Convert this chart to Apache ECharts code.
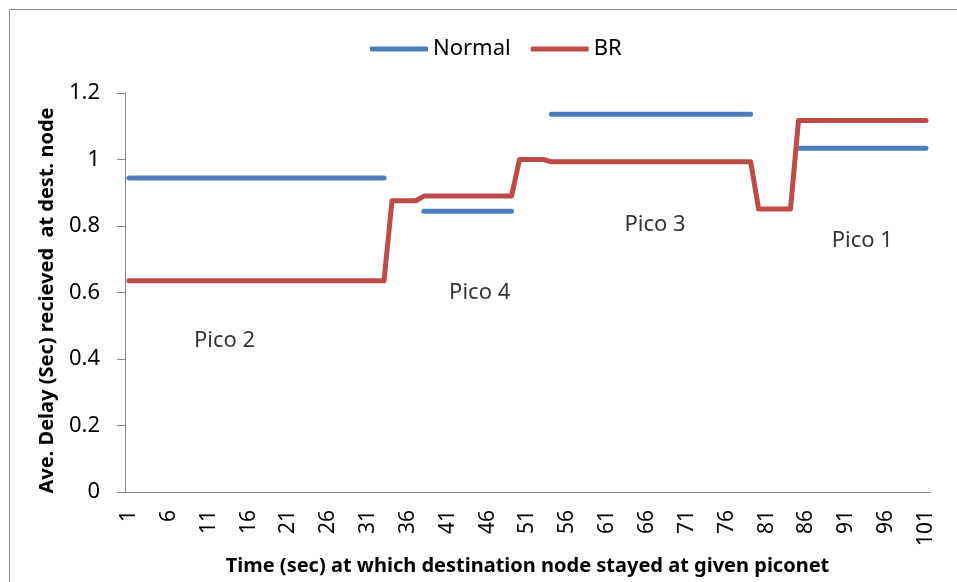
<!DOCTYPE html>
<html>
<head>
<meta charset="utf-8">
<script src="https://cdn.jsdelivr.net/npm/echarts@6/dist/echarts.min.js"></script>
<style>
html,body{margin:0;padding:0;background:#fff;overflow:hidden;}
#main{width:957px;height:582px;}
</style>
</head>
<body>
<div id="main"></div>
<script>
// ---- Data ----
const categories = [
  '1','2','3','4','5','6','7','8','9','10',
  '11','12','13','14','15','16','17','18','19','20',
  '21','22','23','24','25','26','27','28','29','30',
  '31','32','33','34','35','36','37','38','39','40',
  '41','42','43','44','45','46','47','48','49','50',
  '51','52','53','54','55','56','57','58','59','60',
  '61','62','63','64','65','66','67','68','69','70',
  '71','72','73','74','75','76','77','78','79','80',
  '81','82','83','84','85','86','87','88','89','90',
  '91','92','93','94','95','96','97','98','99','100',
  '101'
];

const normal = [
  0.944,0.944,0.944,0.944,0.944,0.944,0.944,0.944,0.944,0.944,0.944,
  0.944,0.944,0.944,0.944,0.944,0.944,0.944,0.944,0.944,0.944,0.944,
  0.944,0.944,0.944,0.944,0.944,0.944,0.944,0.944,0.944,0.944,0.944,
  null,null,null,null,
  0.844,0.844,0.844,0.844,0.844,0.844,0.844,0.844,0.844,0.844,0.844,0.844,
  null,null,null,null,
  1.136,1.136,1.136,1.136,1.136,1.136,1.136,1.136,1.136,1.136,1.136,1.136,1.136,
  1.136,1.136,1.136,1.136,1.136,1.136,1.136,1.136,1.136,1.136,1.136,1.136,1.136,
  null,null,null,null,null,
  1.034,1.034,1.034,1.034,1.034,1.034,1.034,1.034,1.034,
  1.034,1.034,1.034,1.034,1.034,1.034,1.034,1.034
];

const br = [
  0.635,0.635,0.635,0.635,0.635,0.635,0.635,0.635,0.635,0.635,0.635,
  0.635,0.635,0.635,0.635,0.635,0.635,0.635,0.635,0.635,0.635,0.635,
  0.635,0.635,0.635,0.635,0.635,0.635,0.635,0.635,0.635,0.635,0.635,
  0.876,0.876,0.876,0.876,
  0.89,0.89,0.89,0.89,0.89,0.89,0.89,0.89,0.89,0.89,0.89,0.89,
  1.0,1.0,1.0,1.0,
  0.993,0.993,0.993,0.993,0.993,0.993,0.993,0.993,0.993,0.993,0.993,0.993,0.993,
  0.993,0.993,0.993,0.993,0.993,0.993,0.993,0.993,0.993,0.993,0.993,0.993,0.993,
  0.851,0.851,0.851,0.851,0.851,
  1.117,1.117,1.117,1.117,1.117,1.117,1.117,1.117,1.117,
  1.117,1.117,1.117,1.117,1.117,1.117,1.117,1.117
];

const annoText = ['Pico 2', 'Pico 4', 'Pico 3', 'Pico 1'];
const annoX = [12.3, 43.5, 65.9, 92];
const annoY = [0.456, 0.598, 0.805, 0.757];

const yTicks = [0, 0.2, 0.4, 0.6, 0.8, 1, 1.2];

// ---- Chart ----
const chart = echarts.init(document.getElementById('main'), null, {renderer: 'canvas'});
const FONT = '"Noto Sans", "Open Sans", sans-serif';
const axisColor = '#868686';

const option = {
  animation: false,
  backgroundColor: '#ffffff',
  textStyle: {fontFamily: FONT},
  graphic: [{
    type: 'rect',
    shape: {x: 9.5, y: 9.5, width: 1000, height: 1000},
    style: {fill: 'none', stroke: '#8c8c8c', lineWidth: 1},
    silent: true, z: -1
  }],
  legend: {
    data: ['Normal', 'BR'],
    top: 38,
    left: 370,
    padding: 0,
    icon: 'roundRect',
    itemWidth: 58,
    itemHeight: 5,
    itemGap: 20,
    textStyle: {fontFamily: FONT, fontSize: 22, color: '#000'}
  },
  grid: {left: 125, right: 27, top: 93, bottom: 90, containLabel: false},
  xAxis: {
    type: 'category',
    data: categories,
    boundaryGap: true,
    name: 'Time (sec) at which destination node stayed at given piconet',
    nameLocation: 'middle',
    nameGap: 64,
    nameTextStyle: {fontFamily: FONT, fontWeight: 'bold', fontSize: 20, color: '#000'},
    axisLine: {show: true, lineStyle: {color: axisColor, width: 1}},
    axisTick: {show: false},
    axisLabel: {
      interval: 4, rotate: 90, margin: 18,
      fontFamily: FONT, fontSize: 21, color: '#000'
    },
    splitLine: {show: false}
  },
  yAxis: {
    type: 'value',
    min: yTicks[0],
    max: yTicks[yTicks.length - 1],
    interval: 0.2,
    name: 'Ave. Delay (Sec) recieved  at dest. node',
    nameLocation: 'middle',
    nameGap: 68,
    nameRotate: 90,
    nameTextStyle: {fontFamily: FONT, fontWeight: 'bold', fontSize: 20, color: '#000', padding: [0, 16, 0, 0]},
    axisLine: {show: true, lineStyle: {color: axisColor, width: 1}},
    axisTick: {show: true, inside: false, length: 8, lineStyle: {color: axisColor}},
    axisLabel: {
      margin: 25, fontFamily: FONT, fontSize: 22, color: '#000',
      formatter: function (v) { return String(Math.round(v * 10) / 10); }
    },
    splitLine: {show: false}
  },
  series: [
    {
      name: 'Normal',
      type: 'line',
      data: normal,
      connectNulls: false,
      showSymbol: false,
      symbol: 'none',
      itemStyle: {color: '#4A7EBB'},
      lineStyle: {color: '#4A7EBB', width: 5, cap: 'round', join: 'round'},
      z: 2
    },
    {
      name: 'BR',
      type: 'line',
      data: br,
      showSymbol: false,
      symbol: 'none',
      itemStyle: {color: '#BE4B48'},
      lineStyle: {color: '#BE4B48', width: 5, cap: 'round', join: 'round'},
      z: 3
    },
    {
      name: 'labels',
      type: 'scatter',
      symbolSize: 0,
      silent: true,
      data: annoText.map(function (t, i) { return {value: [annoX[i], annoY[i]], name: t}; }),
      label: {
        show: true,
        position: 'inside',
        formatter: function (p) { return p.name; },
        fontFamily: FONT, fontSize: 22, color: '#000'
      }
    }
  ]
};
chart.setOption(option);
</script>
</body>
</html>
